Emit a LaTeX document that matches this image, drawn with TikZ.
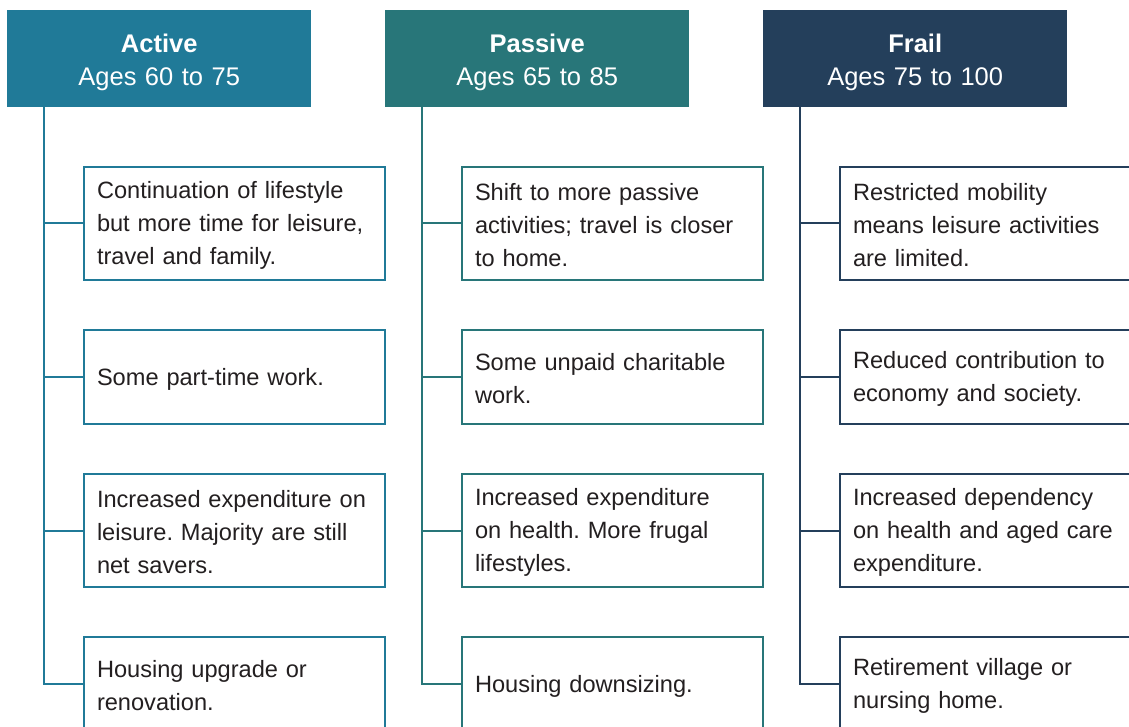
\documentclass[tikz,border=0pt]{standalone}
\usepackage{fontspec}
\setmainfont{Liberation Sans}
\definecolor{cActive}{HTML}{207A98}
\definecolor{cPassive}{HTML}{287679}
\definecolor{cFrail}{HTML}{243F5B}
\definecolor{txt}{HTML}{231F20}
\begin{document}
\frenchspacing
\begin{tikzpicture}[x=1pt,y=-1pt,
  head/.style={fill=#1, draw=none, text width=304pt, minimum height=97pt, anchor=north west,
    text=white, align=center, font=\fontsize{25.5}{33}\selectfont, inner sep=0pt,
    execute at begin node={\rule{0pt}{26pt}}},
  item/.style={draw=#1, line width=2pt, fill=white, minimum width=301pt, anchor=north west,
    text width=275pt, inner xsep=13pt, inner ysep=0pt, align=left, text=txt,
    font=\fontsize{23.6}{33}\selectfont,
    execute at begin node={\rule{0pt}{21pt}}},
  tall/.style={minimum height=113pt},
  short/.style={minimum height=94pt},
  link/.style={draw=#1, line width=2pt}
]
\clip (0,0) rectangle (1129,727);
\useasboundingbox (0,0) rectangle (1129,727);
\fill[white] (0,0) rectangle (1129,727);

% headers
\node[head=cActive] (hA) at (7,10) {\textbf{Active}\\Ages 60 to 75};
\node[head=cPassive] (hP) at (385,10) {\textbf{Passive}\\Ages 65 to 85};
\node[head=cFrail] (hF) at (763,10) {\textbf{Frail}\\Ages 75 to 100};

% spine coordinates
\coordinate (sA) at (44,107);
\coordinate (sP) at (422,107);
\coordinate (sF) at (800,107);

% Active items
\node[item=cActive,tall] (a1) at (83,166) {Continuation of lifestyle\\but more time for leisure,\\travel and family.};
\node[item=cActive,short] (a2) at (83,329) {Some part-time work.};
\node[item=cActive,tall] (a3) at (83,473) {Increased expenditure on\\leisure. Majority are still\\net savers.};
\node[item=cActive,short] (a4) at (83,636) {Housing upgrade or\\renovation.};

% Passive items
\node[item=cPassive,tall] (p1) at (461,166) {Shift to more passive\\activities; travel is closer\\to home.};
\node[item=cPassive,short] (p2) at (461,329) {Some unpaid charitable\\work.};
\node[item=cPassive,tall] (p3) at (461,473) {Increased expenditure\\on health. More frugal\\lifestyles.};
\node[item=cPassive,short] (p4) at (461,636) {Housing downsizing.};

% Frail items
\node[item=cFrail,tall] (f1) at (839,166) {Restricted mobility\\means leisure activities\\are limited.};
\node[item=cFrail,short] (f2) at (839,329) {Reduced contribution to\\economy and society.};
\node[item=cFrail,tall] (f3) at (839,473) {Increased dependency\\on health and aged care\\expenditure.};
\node[item=cFrail,short] (f4) at (839,636) {Retirement village or\\nursing home.};

% connectors
\draw[link=cActive] (sA) |- (a4.west);
\draw[link=cActive] (sA |- a1.west) -- (a1.west);
\draw[link=cActive] (sA |- a2.west) -- (a2.west);
\draw[link=cActive] (sA |- a3.west) -- (a3.west);

\draw[link=cPassive] (sP) |- (p4.west);
\draw[link=cPassive] (sP |- p1.west) -- (p1.west);
\draw[link=cPassive] (sP |- p2.west) -- (p2.west);
\draw[link=cPassive] (sP |- p3.west) -- (p3.west);

\draw[link=cFrail] (sF) |- (f4.west);
\draw[link=cFrail] (sF |- f1.west) -- (f1.west);
\draw[link=cFrail] (sF |- f2.west) -- (f2.west);
\draw[link=cFrail] (sF |- f3.west) -- (f3.west);
\end{tikzpicture}
\end{document}
